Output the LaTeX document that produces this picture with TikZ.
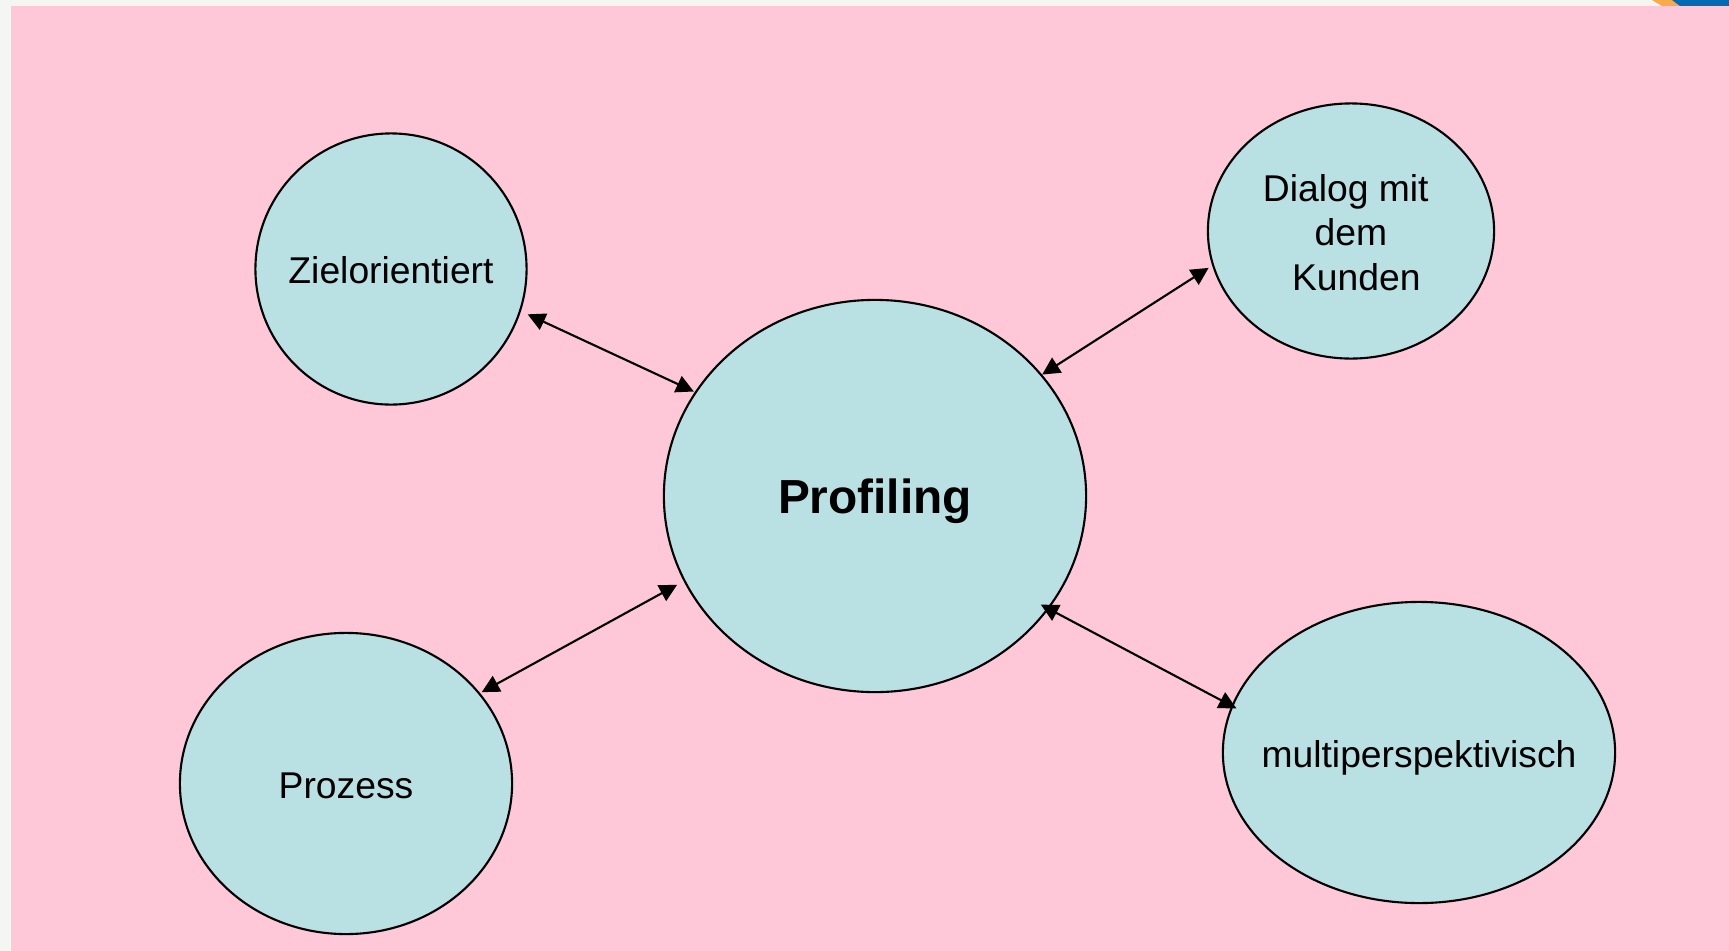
\documentclass[tikz,border=0pt]{standalone}
\usepackage{fontspec}
\usepackage{xcolor}
\setmainfont{Liberation Sans}
\usetikzlibrary{
    arrows.meta,
    shapes.geometric,
    positioning
}
\definecolor{pagegrey}{RGB}{244,246,242}
\definecolor{backpink}{RGB}{255,200,217}
\definecolor{bubble}{RGB}{185,224,227}
\definecolor{cornerblue}{RGB}{0,106,180}
\definecolor{cornerorange}{RGB}{250,170,70}
\tikzset{
    topic/.style={draw=black, line width=0.6pt, fill=bubble, ellipse, inner sep=-1cm, align=center, font=\fontsize{10.6}{12.6}\selectfont},
    single/.style={text height=8.3pt, text depth=0pt},
    link/.style={{Triangle[length=5pt,width=5pt]}-{Triangle[length=5pt,width=5pt]}, line width=0.6pt}
}

\begin{document}
\begin{tikzpicture}[x=0.01cm, y=-0.01cm]
    \useasboundingbox (0,0) rectangle (1729,951);
    % Background
    \fill[pagegrey] (0,0) rectangle (1729,951);
    \fill[cornerorange] (1652,0) -- (1675,0) -- (1680,6) -- (1662,6) -- cycle;
    \fill[cornerblue] (1672,0) -- (1729,0) -- (1729,6) -- (1680,6) -- cycle;
    \fill[backpink] (11,6) rectangle (1729,951);

    % Bubbles
    \node[topic, single, text height=10.1pt, minimum width=4.22cm, minimum height=3.92cm, font=\fontsize{13.6}{16}\selectfont\bfseries] (profiling) at (875,496) {Profiling};
    \node[topic, single, minimum width=2.71cm, minimum height=2.71cm] (ziel) at (391,269) {Zielorientiert};
    \node[topic, minimum width=2.86cm, minimum height=2.55cm] (dialog) at (1351,231) {\rule{0pt}{8.5pt}Dialog mit\hspace*{3pt}\\dem\\\hspace*{3pt}Kunden};
    \node[topic, single, minimum width=3.32cm, minimum height=3.01cm] (prozess) at (346,783.5) {Prozess};
    \node[topic, single, minimum width=3.92cm, minimum height=3.01cm] (multi) at (1419,752.5) {multiperspektivisch};

    % Arrows
    \draw[link, shorten <=2.1pt, shorten >=0.3pt] (ziel.-18) -- (profiling.150);
    \draw[link, shorten <=1.2pt] (dialog.194) -- (profiling.36);
    \draw[link, shorten <=0.5pt, shorten >=2.1pt] (prozess.34) -- (profiling.204);
    \draw[link, shorten <=-2.6pt, shorten >=-1.6pt] (profiling.-33) -- (multi.166);
\end{tikzpicture}
\end{document}
